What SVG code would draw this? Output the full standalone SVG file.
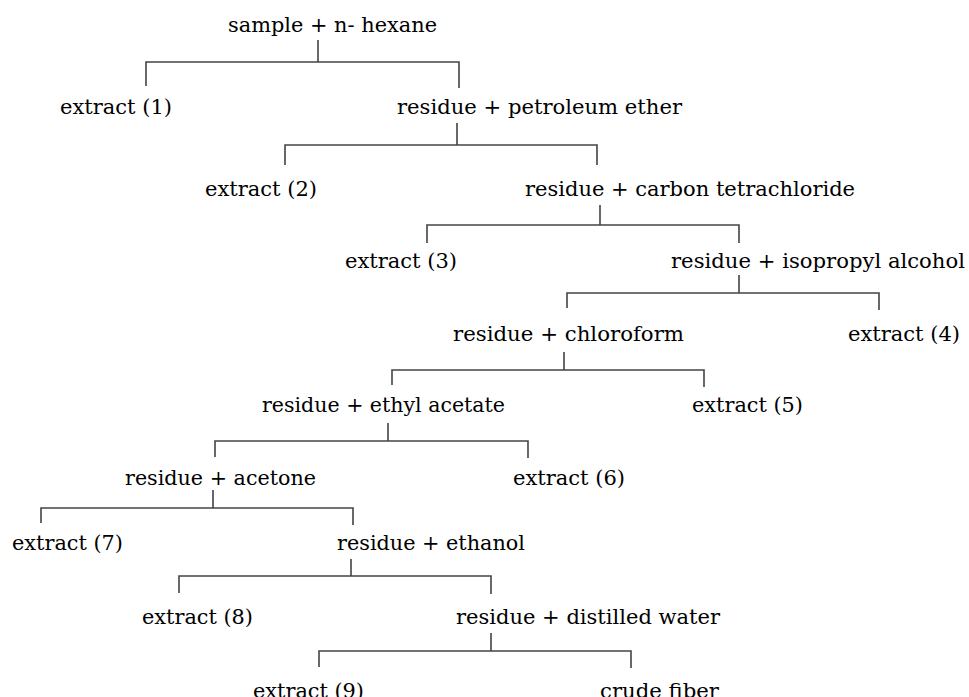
<svg xmlns="http://www.w3.org/2000/svg" width="969" height="697" viewBox="0 0 969 697">
<style>
text{font-family:"DejaVu Serif","Liberation Serif",serif;font-size:20.5px;fill:#000;}
.c{fill:none;stroke:#444;stroke-width:1.6;}
</style>
<rect width="969" height="697" fill="#fff"/>
<g id="connectors">
<path class="c" d="M318,40V62M146,86V62H459V88"/>
<path class="c" d="M457,123V145M285,165V145H597V165"/>
<path class="c" d="M600,205V225M427,243V225H739V243"/>
<path class="c" d="M739,275V293M567,308V293H879V310"/>
<path class="c" d="M564,352V370M392,385V370H704V387"/>
<path class="c" d="M388,423V441M215,457V441H528V458"/>
<path class="c" d="M213,490V508M41,523V508H353V525"/>
<path class="c" d="M351,559V576M179,593V576H491V594"/>
<path class="c" d="M491,633V651M319,667V651H631V668"/>
</g>
<g id="n0"><text x="228" y="32" textLength="209" lengthAdjust="spacingAndGlyphs">sample + n- hexane</text></g>
<g id="n1"><text x="60" y="114" textLength="112" lengthAdjust="spacingAndGlyphs">extract (1)</text></g>
<g id="n2"><text x="397" y="114" textLength="285" lengthAdjust="spacingAndGlyphs">residue + petroleum ether</text></g>
<g id="n3"><text x="205" y="196" textLength="112" lengthAdjust="spacingAndGlyphs">extract (2)</text></g>
<g id="n4"><text x="525" y="196" textLength="330" lengthAdjust="spacingAndGlyphs">residue + carbon tetrachloride</text></g>
<g id="n5"><text x="345" y="268" textLength="112" lengthAdjust="spacingAndGlyphs">extract (3)</text></g>
<g id="n6"><text x="671" y="268" textLength="294" lengthAdjust="spacingAndGlyphs">residue + isopropyl alcohol</text></g>
<g id="n7"><text x="453" y="341" textLength="231" lengthAdjust="spacingAndGlyphs">residue + chloroform</text></g>
<g id="n8"><text x="848" y="341" textLength="112" lengthAdjust="spacingAndGlyphs">extract (4)</text></g>
<g id="n9"><text x="262" y="412" textLength="243" lengthAdjust="spacingAndGlyphs">residue + ethyl acetate</text></g>
<g id="n10"><text x="692" y="412" textLength="111" lengthAdjust="spacingAndGlyphs">extract (5)</text></g>
<g id="n11"><text x="125" y="485" textLength="191" lengthAdjust="spacingAndGlyphs">residue + acetone</text></g>
<g id="n12"><text x="513" y="485" textLength="112" lengthAdjust="spacingAndGlyphs">extract (6)</text></g>
<g id="n13"><text x="12" y="550" textLength="111" lengthAdjust="spacingAndGlyphs">extract (7)</text></g>
<g id="n14"><text x="337" y="550" textLength="188" lengthAdjust="spacingAndGlyphs">residue + ethanol</text></g>
<g id="n15"><text x="142" y="624" textLength="111" lengthAdjust="spacingAndGlyphs">extract (8)</text></g>
<g id="n16"><text x="456" y="624" textLength="264" lengthAdjust="spacingAndGlyphs">residue + distilled water</text></g>
<g id="n17"><text x="253" y="698" textLength="111" lengthAdjust="spacingAndGlyphs">extract (9)</text></g>
<g id="n18"><text x="600" y="698" textLength="119" lengthAdjust="spacingAndGlyphs">crude fiber</text></g>
</svg>
